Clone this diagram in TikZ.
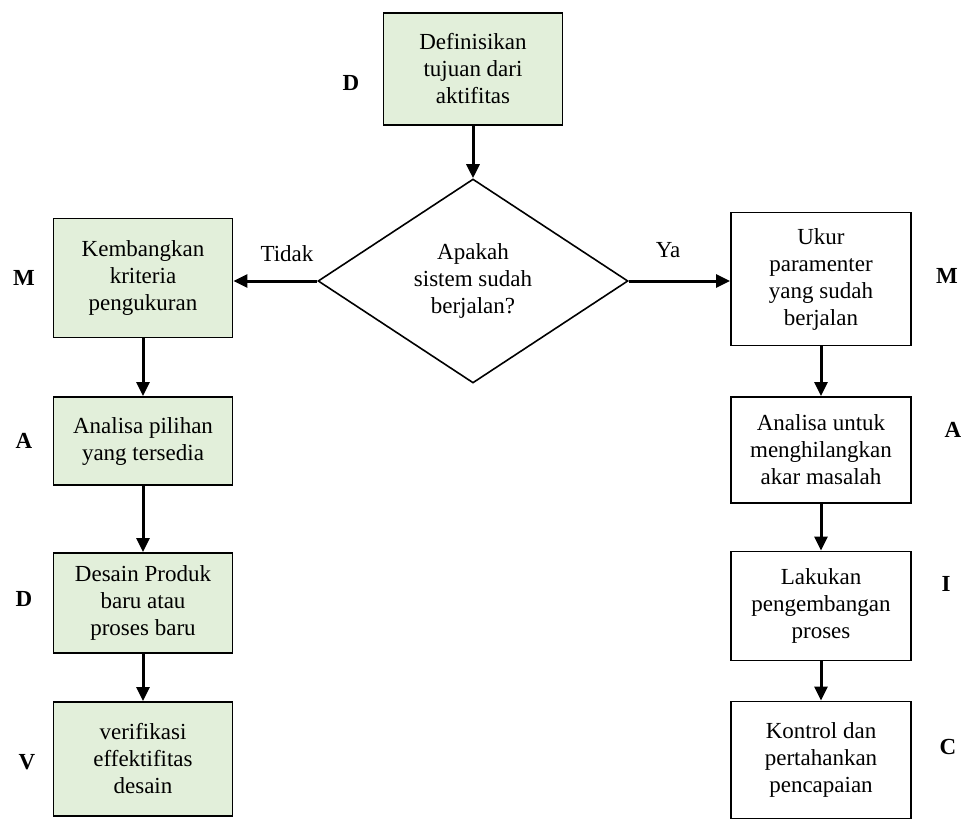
\documentclass[tikz,border=0pt]{standalone}
\usepackage{fontspec}
\setmainfont{Liberation Serif}
\usetikzlibrary{arrows.meta,shapes.geometric}
\definecolor{stepgreen}{HTML}{E2EFDA}

\tikzset{
  box/.style={draw,line width=1.9pt,align=center,inner sep=0pt,font=\fontsize{23}{27}\selectfont},
  greenbox/.style={box,fill=stepgreen,minimum width=179pt},
  whitebox/.style={box,fill=white,minimum width=180pt},
  tag/.style={font=\fontsize{23}{27}\selectfont\bfseries},
  answer/.style={font=\fontsize{23}{27}\selectfont},
  flow/.style={line width=3pt,-{Triangle[length=14pt,width=13pt]}},
}

\begin{document}
\begin{tikzpicture}[x=1pt,y=-1pt]
        \useasboundingbox (0,0) rectangle (961,821);
        % start and decision
        \node[greenbox,minimum height=112pt] (goal) at (473,69) {Definisikan\\tujuan dari\\aktifitas};
        \node[draw,diamond,line width=1.6pt,minimum width=310pt,minimum height=204pt,inner sep=0pt,
              align=center,font=\fontsize{23}{27}\selectfont] (check) at (473,281) {Apakah\\sistem sudah\\berjalan?};
        % left branch (new system)
        \node[greenbox,minimum height=119pt] (kriteria) at (143,278) {Kembangkan\\kriteria\\pengukuran};
        \node[greenbox,minimum height=88pt] (pilihan) at (143,441) {Analisa pilihan\\yang tersedia};
        \node[greenbox,minimum height=100pt] (desain) at (143,603) {Desain Produk\\baru atau\\proses baru};
        \node[greenbox,minimum height=114pt] (verif) at (143,759) {verifikasi\\effektifitas\\desain};
        % right branch (running system)
        \node[whitebox,minimum height=133pt] (ukur) at (821,279) {Ukur\\paramenter\\yang sudah\\berjalan};
        \node[whitebox,minimum height=106pt] (akar) at (821,450) {Analisa untuk\\menghilangkan\\akar masalah};
        \node[whitebox,minimum height=109pt] (proses) at (821,606) {Lakukan\\pengembangan\\proses};
        \node[whitebox,minimum height=117pt] (kontrol) at (821,760) {Kontrol dan\\pertahankan\\pencapaian};
        % phase letters
        \node[tag] (tagD) at (351,83) {D};
        \node[tag] (tagM1) at (24,278) {M};
        \node[tag] (tagA1) at (24,441) {A};
        \node[tag] (tagD1) at (24,599) {D};
        \node[tag] (tagV1) at (27,762) {V};
        \node[tag] (tagM2) at (947,276) {M};
        \node[tag] (tagA2) at (953,430) {A};
        \node[tag] (tagI2) at (946,584) {I};
        \node[tag] (tagC2) at (948,747) {C};
        \node[answer] (no) at (287,254) {Tidak};
        \node[answer] (yes) at (668,250) {Ya};
        % connectors
        \draw[flow] (goal) -- (check);
        \draw[flow] (check.west) -- (check.west -| kriteria.east);
        \draw[flow] (check.east) -- (check.east -| ukur.west);
        \draw[flow] (kriteria) -- (pilihan);
        \draw[flow] (pilihan) -- (desain);
        \draw[flow] (desain) -- (verif);
        \draw[flow] (ukur) -- (akar);
        \draw[flow] (akar) -- (proses);
        \draw[flow] (proses) -- (kontrol);
      \end{tikzpicture}
\end{document}
